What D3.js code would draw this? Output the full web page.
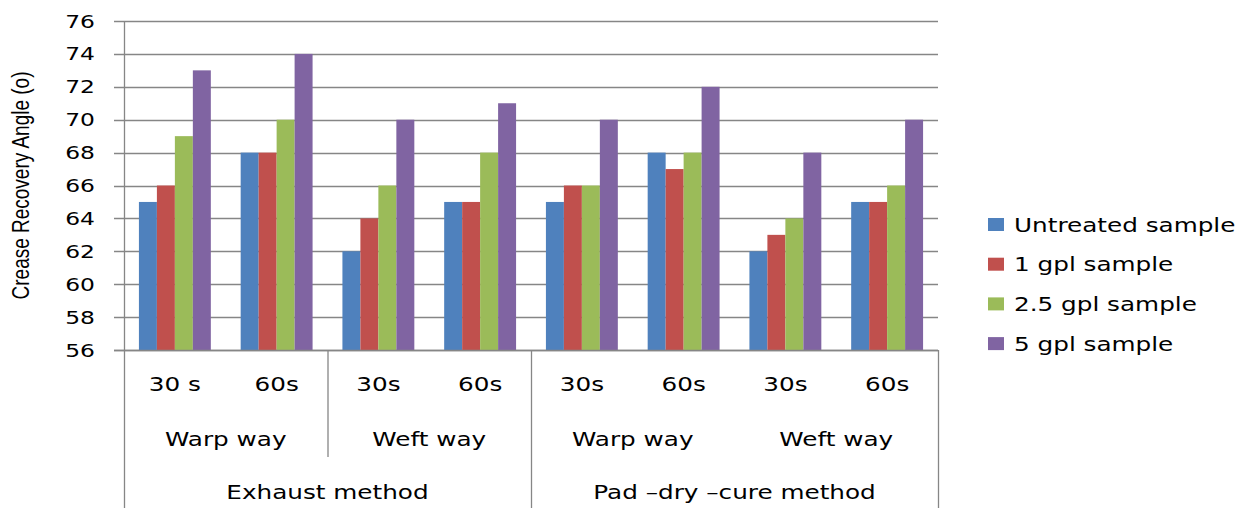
<!DOCTYPE html>
<html>
<head>
<meta charset="utf-8">
<script src="https://cdn.jsdelivr.net/npm/d3@7"></script>
<style>
  html, body { margin: 0; padding: 0; background: #fff; }
  svg { display: block; }
  text { fill: #000; }
</style>
</head>
<body>
<svg id="chart" width="1243" height="508"></svg>
<script>
// Crease recovery angle by treatment, direction and process time
const times = ["30 s", "60s", "30s", "60s", "30s", "60s", "30s", "60s"];
const directions = ["Warp way", "Weft way", "Warp way", "Weft way"];
const methods = ["Exhaust method", "Pad \u2013dry \u2013cure method"];
const seriesNames = ["Untreated sample", "1 gpl sample", "2.5 gpl sample", "5 gpl sample"];
const seriesColors = ["#4F81BD", "#C0504D", "#9BBB59", "#8064A2"];
const untreated = [65, 68, 62, 65, 65, 68, 62, 65];
const gpl1      = [66, 68, 64, 65, 66, 67, 63, 65];
const gpl25     = [69, 70, 66, 68, 66, 68, 64, 66];
const gpl5      = [73, 74, 70, 71, 70, 72, 68, 70];
const yTicks = [56, 58, 60, 62, 64, 66, 68, 70, 72, 74, 76];
const yTitle = "Crease Recovery Angle (o)";

const series = [untreated, gpl1, gpl25, gpl5];
const svg = d3.select("#chart");
const STRETCH = 1.3;
const GRID = "#868686";

const plot = { left: 124, right: 938, top: 21, bottom: 350 };

const x0 = d3.scaleBand()
  .domain(d3.range(times.length))
  .range([plot.left, plot.right])
  .padding(0);

const x1 = d3.scaleBand()
  .domain(d3.range(seriesNames.length))
  .range([0, x0.bandwidth()])
  .paddingInner(0)
  .paddingOuter(0.83);

const y = d3.scaleLinear()
  .domain([d3.min(yTicks), d3.max(yTicks)])
  .range([plot.bottom, plot.top]);

// horizontal gridlines with short ticks left of the axis
svg.append("g")
  .selectAll("line")
  .data(yTicks)
  .join("line")
  .attr("x1", plot.left - 10)
  .attr("x2", plot.right)
  .attr("y1", d => Math.round(y(d)) + 0.5)
  .attr("y2", d => Math.round(y(d)) + 0.5)
  .attr("stroke", GRID)
  .attr("stroke-width", 1.3);

// y tick labels
svg.append("g")
  .selectAll("text")
  .data(yTicks)
  .join("text")
  .attr("transform", d => `translate(95,${y(d) + 6.5}) scale(${STRETCH},1)`)
  .attr("text-anchor", "end")
  .attr("font-family", "DejaVu Sans, sans-serif")
  .attr("font-size", 18)
  .text(d => d);

// y axis title
svg.append("text")
  .attr("transform", `translate(29,${(plot.top + plot.bottom) / 2}) scale(${STRETCH},1) rotate(-90)`)
  .attr("text-anchor", "middle")
  .attr("font-family", "Liberation Sans, Arial, sans-serif")
  .attr("font-size", 19)
  .text(yTitle);

// bars
const groups = svg.append("g")
  .selectAll("g")
  .data(times.map((t, i) => i))
  .join("g")
  .attr("transform", i => `translate(${x0(i)},0)`);

groups.selectAll("rect")
  .data(i => series.map((s, k) => ({ k, v: s[i] })))
  .join("rect")
  .attr("x", d => x1(d.k))
  .attr("width", x1.bandwidth())
  .attr("y", d => y(d.v))
  .attr("height", d => y(y.domain()[0]) - y(d.v))
  .attr("fill", d => seriesColors[d.k]);

// category axis frame
const frame = svg.append("g").attr("stroke", GRID).attr("stroke-width", 1.3);
frame.append("line")
  .attr("x1", plot.left + 0.5).attr("x2", plot.left + 0.5)
  .attr("y1", plot.top).attr("y2", 508);
frame.append("line")
  .attr("x1", plot.left - 10).attr("x2", plot.right)
  .attr("y1", plot.bottom + 0.5).attr("y2", plot.bottom + 0.5);
frame.append("line")
  .attr("x1", plot.right + 0.5).attr("x2", plot.right + 0.5)
  .attr("y1", plot.bottom).attr("y2", 508);
// divider between the two methods
frame.append("line")
  .attr("x1", x0(4) + 0.5).attr("x2", x0(4) + 0.5)
  .attr("y1", plot.bottom).attr("y2", 508);
// divider between directions in the first method
frame.append("line")
  .attr("x1", x0(2) + 0.5).attr("x2", x0(2) + 0.5)
  .attr("y1", plot.bottom).attr("y2", 457);

const labelFont = "DejaVu Sans, sans-serif";

// time labels
svg.append("g")
  .selectAll("text")
  .data(times)
  .join("text")
  .attr("transform", (d, i) => `translate(${x0(i) + x0.bandwidth() / 2},391) scale(${STRETCH},1)`)
  .attr("text-anchor", "middle")
  .attr("font-family", labelFont)
  .attr("font-size", 19)
  .text(d => d);

// direction labels
svg.append("g")
  .selectAll("text")
  .data(directions)
  .join("text")
  .attr("transform", (d, i) => `translate(${x0(i * 2) + x0.bandwidth()},446) scale(${STRETCH},1)`)
  .attr("text-anchor", "middle")
  .attr("font-family", labelFont)
  .attr("font-size", 19)
  .text(d => d);

// method labels
svg.append("g")
  .selectAll("text")
  .data(methods)
  .join("text")
  .attr("transform", (d, i) => `translate(${x0(i * 4) + 2 * x0.bandwidth()},499) scale(${STRETCH},1)`)
  .attr("text-anchor", "middle")
  .attr("font-family", labelFont)
  .attr("font-size", 19)
  .text(d => d);

// legend
const legend = svg.append("g")
  .selectAll("g")
  .data(seriesNames)
  .join("g")
  .attr("transform", (d, i) => `translate(988,${224.5 + i * 39.7})`);

legend.append("rect")
  .attr("x", 0).attr("y", -6.5)
  .attr("width", 16).attr("height", 13)
  .attr("fill", (d, i) => seriesColors[i]);

legend.append("text")
  .attr("transform", `translate(26,7) scale(${STRETCH},1)`)
  .attr("font-family", labelFont)
  .attr("font-size", 19)
  .text(d => d);
</script>
</body>
</html>
